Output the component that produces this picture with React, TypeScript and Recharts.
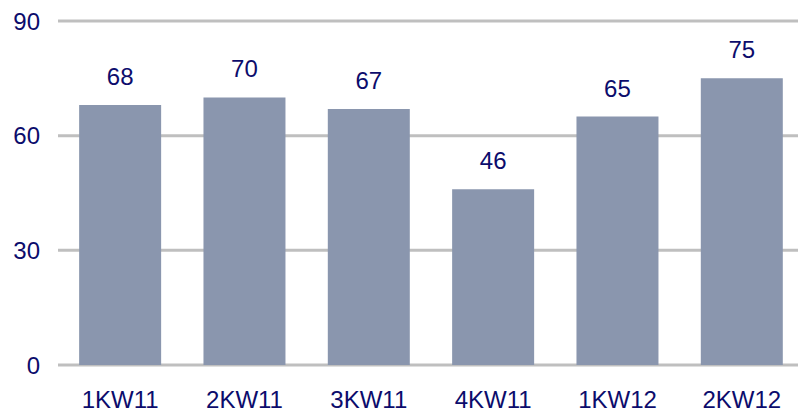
import { BarChart, Bar, XAxis, YAxis, CartesianGrid, LabelList } from 'recharts';

const WEEKS = ['1KW11', '2KW11', '3KW11', '4KW11', '1KW12', '2KW12'];
const VALUES = [68, 70, 67, 46, 65, 75];
const Y_TICKS = [0, 30, 60, 90];

const TEXT_COLOR = '#0c0c6c';
const BAR_COLOR = '#8a96ae';
const GRID_COLOR = '#bfbfbf';

const data = WEEKS.map((week, i) => ({ week, value: VALUES[i] }));

const fontStyle = { fontFamily: '"Liberation Sans", Arial, sans-serif', fontSize: 24, fill: TEXT_COLOR };

export default function App() {
  return (
    <div style={{ position: 'absolute', left: 0, top: 0 }}>
      <BarChart
        width={798}
        height={414}
        data={data}
        margin={{ top: 21, right: -6, bottom: 0, left: 0 }}
        barCategoryGap="17%"
      >
        <CartesianGrid vertical={false} stroke={GRID_COLOR} strokeWidth={3} />
        <XAxis
          dataKey="week"
          axisLine={false}
          tickLine={false}
          tickSize={0}
          tickMargin={26}
          height={49}
          tick={fontStyle}
          interval={0}
        />
        <YAxis
          domain={[0, 90]}
          ticks={Y_TICKS}
          axisLine={false}
          tickLine={false}
          tickSize={0}
          tickMargin={18}
          width={58}
          tick={fontStyle}
        />
        <Bar dataKey="value" fill={BAR_COLOR} isAnimationActive={false}>
          <LabelList dataKey="value" position="top" offset={20} style={fontStyle} />
        </Bar>
      </BarChart>
    </div>
  );
}
